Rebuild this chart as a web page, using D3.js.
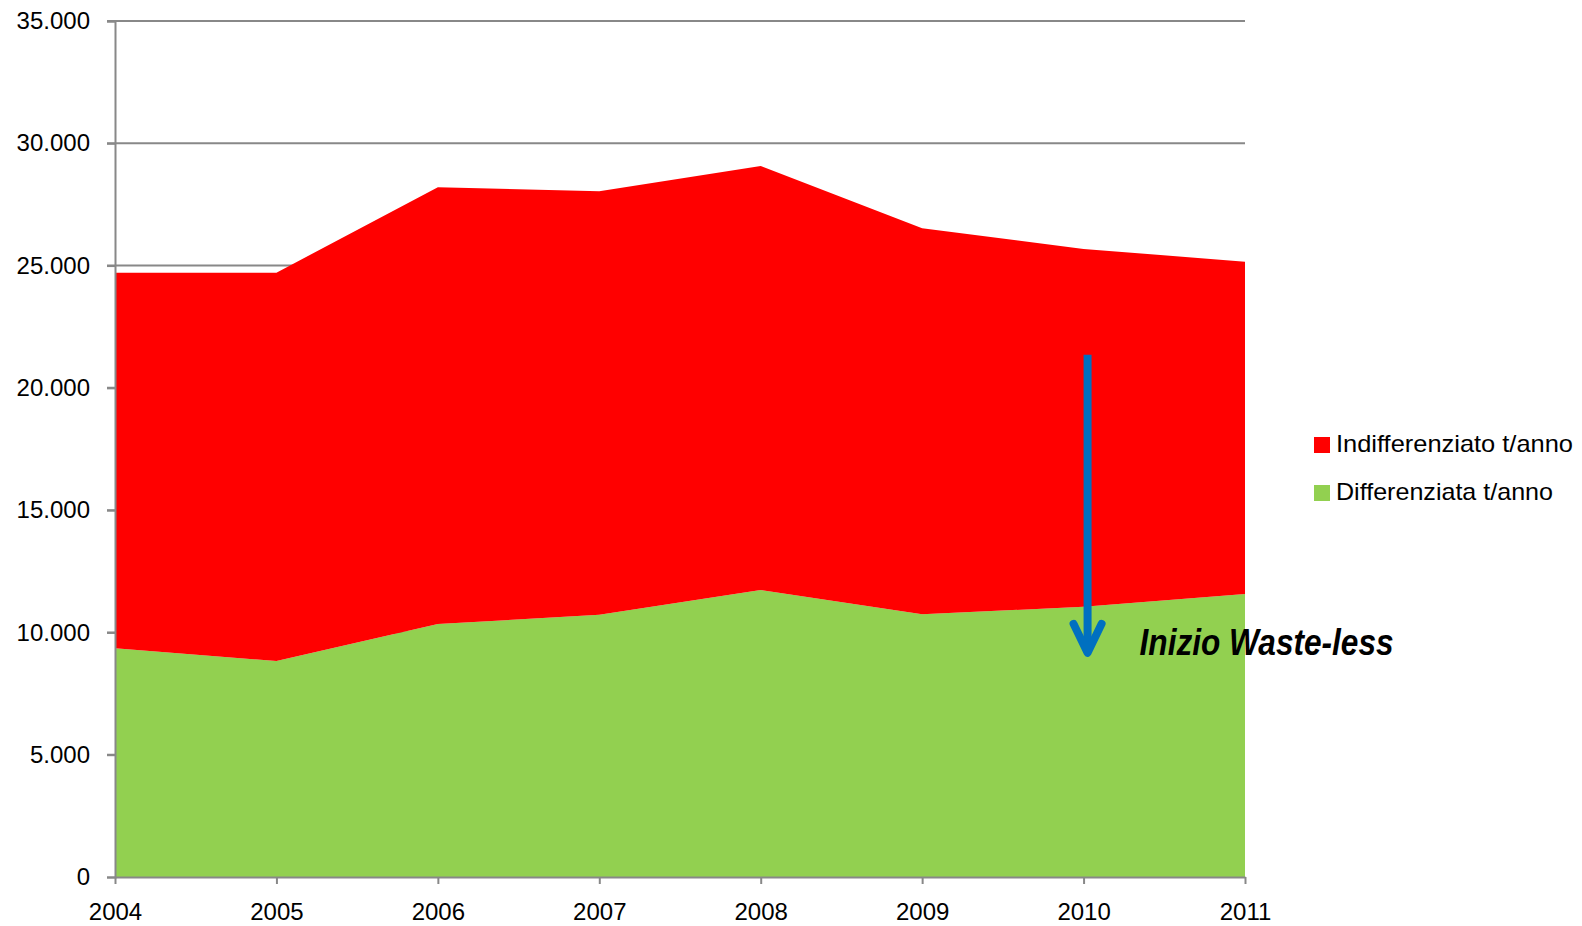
<!DOCTYPE html>
<html><head><meta charset="utf-8">
<script src="https://cdn.jsdelivr.net/npm/d3@7/dist/d3.min.js"></script>
<style>
html,body{margin:0;padding:0;background:#fff;}
svg{display:block;}
text{font-family:"Liberation Sans",Arial,sans-serif;fill:#000;}
</style></head>
<body>
<svg id="chart" width="1582" height="926"></svg>
<script>
const years = [2004, 2005, 2006, 2007, 2008, 2009, 2010, 2011];
const differenziata = [9350, 8830, 10340, 10720, 11730, 10740, 11050, 11570];
const indifferenziato = [15360, 15880, 17860, 17320, 17340, 15790, 14630, 13590];
const seriesNames = ["Differenziata t/anno", "Indifferenziato t/anno"];
const seriesColors = ["#92D050", "#FF0000"];
const yTicks = [0, 5000, 10000, 15000, 20000, 25000, 30000, 35000];
const annotationText = "Inizio Waste-less";
const arrowYear = 2010;
const arrowFrom = 21350;
const arrowTo = 9000;

(function () {
const svg = d3.select("#chart");
const mLeft = 115, mRight = 1245, mTop = 21, mBottom = 877;
const x = d3.scaleLinear().domain([2004, 2011]).range([mLeft, mRight]);
const y = d3.scaleLinear().domain([0, 35000]).range([mBottom, mTop]);
const it = d3.formatLocale({decimal: ",", thousands: ".", grouping: [3], currency: ["", "€"]});
const fmt = it.format(",");

const table = years.map((yr, i) => ({year: yr, d: differenziata[i], u: indifferenziato[i]}));
const layers = d3.stack().keys(["d", "u"])(table);

// gridlines
svg.append("g").selectAll("line").data(yTicks.filter(t => t > 0)).join("line")
  .attr("x1", mLeft - 8).attr("x2", mRight)
  .attr("y1", d => y(d)).attr("y2", d => y(d))
  .attr("stroke", "#888").attr("stroke-width", 2);

// areas
const area = d3.area().x(d => x(d.data.year)).y0(d => y(d[0])).y1(d => y(d[1]));
svg.append("g").selectAll("path").data(layers).join("path")
  .attr("d", area).attr("fill", (d, i) => seriesColors[i]);

// y axis
const yAxis = svg.append("g").attr("transform", `translate(${mLeft},0)`)
  .call(d3.axisLeft(y).tickValues(yTicks).tickFormat(fmt).tickSize(8).tickPadding(17));
yAxis.select(".domain").attr("stroke", "#888").attr("stroke-width", 2);
yAxis.selectAll(".tick line").attr("stroke", "#888").attr("stroke-width", 2);
yAxis.selectAll(".tick text").attr("font-size", 24).attr("font-family", "Liberation Sans, Arial, sans-serif").attr("fill", "#000");

// x axis
const xAxis = svg.append("g").attr("transform", `translate(0,${mBottom})`)
  .call(d3.axisBottom(x).tickValues(years).tickFormat(d3.format("d")).tickSize(7).tickSizeOuter(0).tickPadding(19));
xAxis.select(".domain").attr("stroke", "#888").attr("stroke-width", 2);
xAxis.selectAll(".tick line").attr("stroke", "#888").attr("stroke-width", 2);
xAxis.selectAll(".tick text").attr("font-size", 24).attr("font-family", "Liberation Sans, Arial, sans-serif").attr("fill", "#000");

// arrow annotation
const ax = x(arrowYear) + 4;
const tipY = y(arrowTo) - 4;
svg.append("line").attr("x1", ax).attr("x2", ax)
  .attr("y1", y(arrowFrom)).attr("y2", tipY)
  .attr("stroke", "#0070C0").attr("stroke-width", 8);
svg.append("path")
  .attr("d", `M${ax - 14},${tipY - 29} L${ax},${tipY} L${ax + 14},${tipY - 29}`)
  .attr("fill", "none").attr("stroke", "#0070C0").attr("stroke-width", 8)
  .attr("stroke-linecap", "round").attr("stroke-linejoin", "round");
svg.append("text").attr("x", ax + 52).attr("y", 655)
  .attr("font-size", 36).attr("font-weight", "bold").attr("font-style", "italic")
  .attr("textLength", 254).attr("lengthAdjust", "spacingAndGlyphs")
  .text(annotationText);

// legend
const legendItems = [1, 0];
const lg = svg.append("g").selectAll("g").data(legendItems).join("g")
  .attr("transform", (d, i) => `translate(1314,${437 + i * 48})`);
lg.append("rect").attr("width", 16).attr("height", 16).attr("fill", d => seriesColors[d]);
lg.append("text").attr("x", 22).attr("y", 15).attr("font-size", 24)
  .attr("textLength", d => d === 1 ? 237 : 217).attr("lengthAdjust", "spacingAndGlyphs")
  .text(d => seriesNames[d]);
})();
</script>
</body></html>
